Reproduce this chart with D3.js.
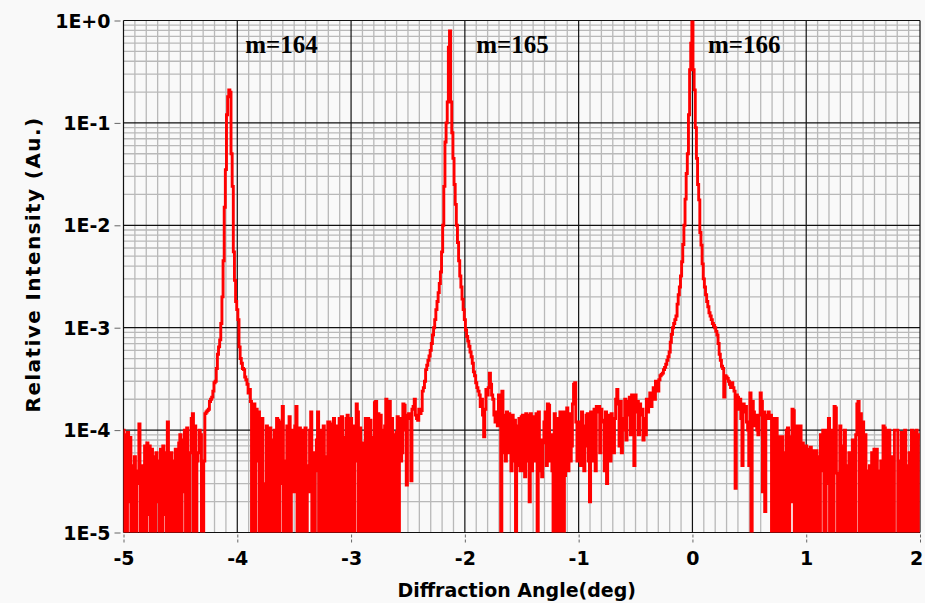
<!DOCTYPE html>
<html>
<head>
<meta charset="utf-8">
<script src="https://cdn.jsdelivr.net/npm/d3@7"></script>
<style>
  html, body { margin: 0; padding: 0; background: #f9f9f9; }
  svg { display: block; }
</style>
</head>
<body>
<svg id="chart" width="925" height="603"></svg>
<script>
// ---------------- DATA ----------------
// Relative intensity sampled every 0.01 deg; each array covers one degree,
// starting at the angle given in segmentStart. 0 = below detection floor.
const segmentStart = [-5, -4, -3, -2, -1, 0, 1];
const angleStep = 0.01;

const intensityM5 = [
  1e-4, 0, 9e-5, 0, 9.5e-5, 2e-5, 8.5e-5, 0, 4.5e-5, 0,
  5.5e-5, 0, 3e-5, 4e-5, 1.15e-4, 0, 4.5e-5, 3e-5, 0, 7e-5,
  0, 7.5e-5, 1.5e-5, 7e-5, 0, 6.5e-5, 0, 5.5e-5, 0, 6e-5,
  2e-5, 5e-5, 0, 6.5e-5, 0, 7e-5, 1.5e-5, 6e-5, 0, 1.2e-4,
  4e-5, 0, 6e-5, 0, 5e-5, 0, 6.5e-5, 2e-5, 0, 7.5e-5,
  9e-5, 0, 8e-5, 2.5e-5, 1.0e-4, 0, 1.05e-4, 5e-5, 0, 6e-5,
  1.3e-4, 1.45e-4, 0, 1.1e-4, 0, 5e-5, 6e-5, 1.0e-4, 9e-5, 0,
  0, 5e-5, 1.45e-4, 1.5e-4, 1.55e-4, 1.6e-4, 1.9e-4, 2.0e-4, 2.1e-4, 2.4e-4,
  2.9e-4, 3.0e-4, 4.0e-4, 5.5e-4, 6.5e-4, 7.6e-4, 1.1e-3, 2.0e-3, 4.5e-3, 1.5e-2,
  3.5e-2, 0.12, 0.18, 0.21, 0.20, 0.05, 0.024, 0.0055, 0.0029, 0.0018
];
const intensityM4 = [
  0.0015, 0.0012, 0.00065, 0.0005, 0.00045, 0.0004, 0.00039, 0.00033, 0.00031, 0.00028,
  0.00023, 0.00025, 0.00019, 0, 1.5e-4, 1.8e-4, 0, 1.6e-4, 5e-5, 1.5e-4,
  0, 8e-5, 1.3e-4, 0, 3e-5, 0, 1.1e-4, 1.0e-4, 0, 1.05e-4,
  0, 8e-5, 0, 1.0e-4, 0, 1.3e-4, 1.25e-4, 0, 1.2e-4, 3e-5,
  1.7e-4, 0, 5e-5, 0, 1.1e-4, 0, 1.35e-4, 0, 1.0e-4, 5e-5,
  2.5e-5, 1.1e-4, 1.7e-4, 0, 9e-5, 1.05e-4, 0, 1.0e-4, 0, 6e-5,
  1.05e-4, 0, 4.5e-5, 2.5e-5, 1.0e-4, 1.5e-4, 0, 6e-5, 0, 4e-5,
  8e-5, 1.5e-4, 0, 9e-5, 1.0e-4, 0, 1.1e-4, 0, 5.5e-5, 0,
  1.2e-4, 1.2e-4, 0, 1.15e-4, 0, 1.3e-4, 0, 1.1e-4, 0, 1.0e-4,
  1.3e-4, 0, 1.35e-4, 0, 8.5e-5, 0, 1.3e-4, 1.4e-4, 0, 1.2e-4
];
const intensityM3 = [
  1.3e-4, 0, 1.1e-4, 0, 5e-5, 1.8e-4, 1.5e-4, 0, 1.05e-4, 0,
  6e-5, 7.5e-5, 0, 1.3e-4, 0, 1.3e-4, 0, 1.25e-4, 8.5e-5, 0,
  0, 1.85e-4, 1.9e-4, 0, 1.45e-4, 0, 1.4e-4, 0, 1.0e-4, 0,
  1.1e-4, 2.0e-4, 0, 1.7e-4, 1.9e-4, 0, 1.3e-4, 0, 9e-5, 0,
  9.5e-5, 1.35e-4, 0, 1.3e-4, 5e-5, 6e-5, 1.8e-4, 1.75e-4, 1.0e-4, 2.9e-5,
  1.4e-4, 1.45e-4, 1.3e-4, 3.2e-5, 1.6e-4, 1.7e-4, 2.0e-4, 1.4e-4, 1.3e-4, 1.25e-4,
  1.6e-4, 1.45e-4, 1.55e-4, 2.4e-4, 2.6e-4, 3.0e-4, 3.9e-4, 4.3e-4, 4.8e-4, 5.3e-4,
  6.0e-4, 7.0e-4, 8.5e-4, 1.0e-3, 1.2e-3, 1.5e-3, 1.8e-3, 2.2e-3, 2.7e-3, 3.5e-3,
  5.5e-3, 1.0e-2, 2.4e-2, 6.5e-2, 0.1, 0.16, 0.55, 0.79, 0.16, 0.08,
  0.045, 0.025, 0.016, 0.010, 0.0068, 0.0045, 0.0032, 0.0025, 0.0019, 0.0015
];
const intensityM2 = [
  0.0012, 0.00095, 0.00082, 0.00074, 0.00066, 0.00058, 0.00052, 0.00045, 0.00037, 0.00034,
  0.00029, 0.00026, 0.00024, 2.2e-4, 1.7e-4, 2.0e-4, 1.4e-4, 8.6e-5, 1.6e-4, 2.5e-4,
  2.2e-4, 2.6e-4, 3.6e-4, 2.8e-4, 2.2e-4, 2.0e-4, 1.4e-4, 1.2e-4, 1.5e-4, 1.1e-4,
  2.2e-4, 1.1e-4, 0, 2.4e-4, 6e-5, 1.4e-4, 5e-5, 1.5e-4, 6e-5, 1.45e-4,
  1.05e-4, 4e-5, 1.4e-4, 5e-5, 1.25e-4, 0, 1.1e-4, 4.5e-5, 1.3e-4, 4e-5,
  1.35e-4, 1.4e-4, 4e-5, 3.5e-5, 1.45e-4, 5e-5, 1.4e-4, 2e-5, 1.45e-4, 4e-5,
  1.35e-4, 5e-5, 1.0e-4, 1.45e-4, 0, 1.5e-4, 4e-5, 8e-5, 3.5e-5, 7.5e-5,
  1.2e-4, 1.5e-4, 4.5e-5, 1.8e-4, 1.75e-4, 5e-5, 9e-5, 4e-5, 0, 1.45e-4,
  0, 1.3e-4, 0, 0, 1.5e-4, 0, 1.5e-4, 0, 3.6e-5, 1.5e-4,
  1.65e-4, 4e-5, 1.45e-4, 5e-5, 7e-5, 1.8e-4, 2.8e-4, 2.9e-4, 1.2e-4, 5e-5
];
const intensityM1 = [
  8e-5, 1.2e-4, 4.5e-5, 1.5e-4, 1.1e-4, 4e-5, 7e-5, 1.4e-4, 1.45e-4, 5e-5,
  2e-5, 1.5e-4, 1.1e-4, 5e-5, 1.6e-4, 4e-5, 1.7e-4, 1.5e-4, 1.7e-4, 6e-5,
  1.6e-4, 1.25e-4, 1.2e-4, 4e-5, 1.5e-4, 3e-5, 1.4e-4, 1.1e-4, 5e-5, 1.45e-4,
  1.2e-4, 6e-5, 1.3e-4, 2.0e-4, 2.5e-4, 1.8e-4, 7e-5, 1.9e-4, 6e-5, 1.0e-4,
  1.3e-4, 2.0e-4, 8e-5, 1.9e-4, 1.4e-4, 2.1e-4, 9e-5, 2.2e-4, 1.6e-4, 4.5e-5,
  2.2e-4, 1.5e-4, 1.9e-4, 9e-5, 1.8e-4, 1.4e-4, 1.6e-4, 8e-5, 1.3e-4, 9e-5,
  2.0e-4, 1.5e-4, 1.9e-4, 2.3e-4, 1.7e-4, 2.3e-4, 2.6e-4, 2.0e-4, 3.0e-4, 2.4e-4,
  2.4e-4, 3.1e-4, 3.4e-4, 3.5e-4, 3.6e-4, 3.9e-4, 4.1e-4, 4.4e-4, 4.8e-4, 5.2e-4,
  5.8e-4, 7.2e-4, 8.6e-4, 1.0e-3, 1.1e-3, 1.2e-3, 1.3e-3, 1.7e-3, 2.1e-3, 2.5e-3,
  3.2e-3, 4.4e-3, 6.5e-3, 1.0e-2, 1.8e-2, 3.2e-2, 5.0e-2, 0.12, 0.33, 0.6
];
const intensityP0 = [
  0.97, 0.33, 0.21, 0.09, 0.045, 0.025, 0.0177, 0.0085, 0.0064, 0.0042,
  0.0030, 0.0025, 0.0021, 0.0018, 0.0016, 0.0014, 0.0013, 0.0012, 0.0011, 0.00105,
  0.001, 0.00092, 0.00085, 0.0007, 0.00055, 0.00048, 0.00042, 0.0004, 0.00021, 0.00034,
  0.00033, 0.00032, 0.0003, 0.00028, 0.00026, 2.9e-4, 2.6e-4, 2.4e-4, 2.7e-5, 2.2e-4,
  2.1e-4, 1.6e-4, 2.0e-4, 1.3e-4, 4.5e-5, 1.8e-4, 1.5e-4, 1.7e-4, 1.2e-4, 1.0e-4,
  4.5e-5, 2.3e-4, 0, 1.9e-4, 1.5e-4, 1.1e-4, 1.4e-4, 1.0e-4, 9e-5, 1.4e-4,
  2.3e-4, 1.9e-4, 2.5e-5, 1.5e-4, 1.6e-5, 1.3e-4, 1.4e-4, 1.5e-4, 1.3e-4, 1.4e-4,
  0, 1.3e-4, 0, 1.3e-4, 1.3e-4, 0, 8.6e-5, 0, 6e-5, 8.6e-5,
  0, 6e-5, 0, 1.0e-4, 1.05e-4, 0, 8.6e-5, 2e-5, 1.6e-4, 1.55e-4,
  0, 6e-5, 1.1e-4, 0, 1.05e-4, 1.1e-4, 0, 7.5e-5, 0, 6.5e-5
];
const intensityP1 = [
  7e-5, 0, 6.5e-5, 0, 6.8e-5, 5.5e-5, 0, 6.3e-5, 0, 6.3e-5,
  0, 5.5e-5, 0, 9e-5, 4e-5, 1.0e-4, 0, 0, 1.0e-4, 3e-5,
  1.3e-4, 0, 1.0e-4, 9e-5, 0, 1.7e-4, 1.65e-4, 3.8e-5, 0, 2.5e-5,
  1.1e-4, 0, 0, 7e-5, 1.0e-4, 0, 0, 4.5e-5, 6e-5, 0,
  3e-5, 8e-5, 0, 0, 9e-5, 1.8e-4, 1.9e-4, 0, 1.45e-4, 0,
  1.2e-4, 0, 9e-5, 0, 0, 4e-5, 4.5e-5, 0, 6e-5, 0,
  6.5e-5, 0, 6.5e-5, 0, 4e-5, 0, 5e-5, 0, 1.1e-4, 1.05e-4,
  0, 1.0e-4, 0, 1.0e-4, 0, 5.5e-5, 0, 0, 1.0e-4, 1.0e-4,
  1.0e-4, 0, 0, 5e-5, 9.5e-5, 0, 8e-5, 1.0e-4, 0, 0,
  4.5e-5, 6e-5, 0, 1.0e-4, 9.5e-5, 0, 9.5e-5, 1.0e-4, 0, 9e-5,
  8.5e-5
];
const segments = [intensityM5, intensityM4, intensityM3, intensityM2, intensityM1, intensityP0, intensityP1];

const xTickValues = [-5, -4, -3, -2, -1, 0, 1, 2];
const yTickValues = [1e-5, 1e-4, 1e-3, 1e-2, 1e-1, 1];
const yTickLabels = ["1E-5", "1E-4", "1E-3", "1E-2", "1E-1", "1E+0"];
const orderLabels = ["m=164", "m=165", "m=166"];
const orderLabelAngles = [-3.93, -1.90, 0.137];
const orderLabelLevel = 0.48;
const xTitle = "Diffraction Angle(deg)";
const yTitle = "Relative Intensity (Au.)";

// ---------------- BUILD ----------------
const points = [];
segments.forEach((arr, s) => {
  arr.forEach((v, k) => {
    points.push([+(segmentStart[s] + k * angleStep).toFixed(2), v]);
  });
});

const W = 925, H = 603;
const L = 123.5, R = 920, T = 20.5, B = 532.5;
const svg = d3.select("#chart");
const x = d3.scaleLinear().domain([-5, 2]).range([L, R]);
const y = d3.scaleLog().domain([1e-5, 1]).range([B, T]).clamp(true);

svg.append("rect").attr("width", W).attr("height", H).attr("fill", "#f9f9f9");

const grid = svg.append("g");
const minorX = d3.range(-50, 21).map(d => d / 10).filter(d => Math.abs(d - Math.round(d)) > 1e-9);
grid.selectAll("line.mx").data(minorX).join("line")
  .attr("x1", d => x(d)).attr("x2", d => x(d)).attr("y1", T).attr("y2", B)
  .attr("stroke", "#b9b9b9").attr("stroke-width", 1.3);
const minorY = [];
for (let e = -5; e < 0; e++) for (let m = 2; m <= 9; m++) minorY.push(m * Math.pow(10, e));
grid.selectAll("line.my").data(minorY).join("line")
  .attr("x1", L).attr("x2", R).attr("y1", d => y(d)).attr("y2", d => y(d))
  .attr("stroke", "#b9b9b9").attr("stroke-width", 1.3);
grid.selectAll("line.Mx").data(xTickValues).join("line")
  .attr("x1", d => x(d)).attr("x2", d => x(d)).attr("y1", T).attr("y2", B)
  .attr("stroke", "#111").attr("stroke-width", 1.2);
grid.selectAll("line.My").data(yTickValues).join("line")
  .attr("x1", L).attr("x2", R).attr("y1", d => y(d)).attr("y2", d => y(d))
  .attr("stroke", "#111").attr("stroke-width", 1.2);

svg.append("clipPath").attr("id", "plotclip").append("rect")
  .attr("x", L).attr("y", T - 2).attr("width", R - L).attr("height", B - T + 2);

const line = d3.line()
  .x(d => x(d[0]))
  .y(d => y(Math.max(d[1], 1e-6)))
  .curve(d3.curveStep);

svg.append("path").datum(points)
  .attr("clip-path", "url(#plotclip)")
  .attr("d", line)
  .attr("fill", "none").attr("stroke", "#ff0000").attr("stroke-width", 2.9)
  .attr("stroke-linejoin", "miter");

svg.selectAll("text.ord").data(orderLabels).join("text")
  .attr("x", (d, i) => x(orderLabelAngles[i])).attr("y", y(orderLabelLevel))
  .attr("font-family", "'Liberation Serif', 'Times New Roman', serif")
  .attr("font-weight", "bold").attr("font-size", 25).attr("fill", "#000")
  .text(d => d);

const fontFam = "'DejaVu Sans', Verdana, sans-serif";
const xAxis = d3.axisBottom(x).tickValues(xTickValues).tickFormat(d => String(d)).tickSize(0).tickPadding(0);
const gx = svg.append("g").attr("transform", `translate(0,${B})`).call(xAxis);
gx.select(".domain").remove();
gx.selectAll(".tick line").attr("y1", 2).attr("y2", 10).attr("stroke", "#666").attr("stroke-width", 1).attr("stroke-dasharray", "3,2");
gx.selectAll(".tick text").attr("y", 32).attr("dy", null)
  .attr("x", d => d === 2 ? -4 : 0)
  .attr("font-family", fontFam).attr("font-weight", "bold").attr("font-size", 19).attr("fill", "#000");

const yAxis = d3.axisLeft(y).tickValues(yTickValues).tickFormat((d, i) => yTickLabels[i]).tickSize(0).tickPadding(0);
const gy = svg.append("g").attr("transform", `translate(${L},0)`).call(yAxis);
gy.select(".domain").remove();
gy.selectAll(".tick line").attr("x1", -9).attr("x2", -3).attr("stroke", "#666").attr("stroke-width", 1);
gy.selectAll(".tick text").attr("x", -13).attr("dy", "0.35em")
  .attr("font-family", fontFam).attr("font-weight", "bold").attr("font-size", 19).attr("fill", "#000");

svg.append("text").attr("x", (L + R) / 2 - 5).attr("y", 597)
  .attr("text-anchor", "middle").attr("font-family", fontFam).attr("font-weight", "bold")
  .attr("font-size", 19).attr("fill", "#000").text(xTitle);

svg.append("text").attr("transform", `translate(40,${(T + B) / 2 - 12}) rotate(-90)`)
  .attr("text-anchor", "middle").attr("font-family", fontFam).attr("font-weight", "bold")
  .attr("font-size", 20).attr("letter-spacing", 1.4).attr("fill", "#000").text(yTitle);
</script>
</body>
</html>
